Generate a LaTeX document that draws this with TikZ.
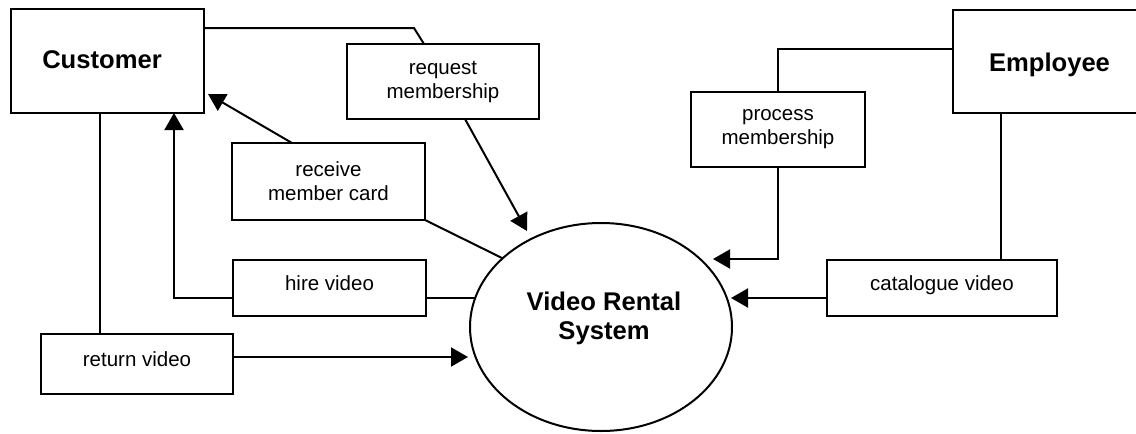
\documentclass[tikz,border=0pt]{standalone}
\usepackage{fontspec}
\setmainfont{Liberation Sans}
\usetikzlibrary{shapes.geometric,arrows.meta}
\begin{document}
\begin{tikzpicture}[x=1pt,y=-1pt,
  box/.style={draw,line width=2pt,rectangle,inner sep=0pt,outer sep=0pt,
    font=\fontsize{20.5}{24}\selectfont,align=center},
  onebox/.style={box,text height=15pt,text depth=11pt},
  ent/.style={draw,line width=2pt,rectangle,inner sep=0pt,outer sep=0pt,
    font=\bfseries\fontsize{25.6}{29}\selectfont},
  conn/.style={line width=2pt},
  arr/.style={line width=2pt,-{Triangle[length=17pt,width=19pt]}}]
\useasboundingbox (0,0) rectangle (1136,434);
\clip (0,0) rectangle (1136,434);

% entities
\node[ent,minimum width=193pt,minimum height=104pt,text height=18.7pt,text depth=4.7pt] (cust) at (107.5,61) {Customer\hspace*{11pt}};
\node[ent,minimum width=193pt,minimum height=103pt,text height=19pt,text depth=0pt] (emp) at (1049.5,61.5) {Employee};

% flows
\node[box,minimum width=192pt,minimum height=75pt] (req) at (443,81.5) {request\\membership};
\node[box,minimum width=193pt,minimum height=77pt] (rec) at (328.5,181.5) {receive\\member card};
\node[onebox,minimum width=193pt,minimum height=56pt] (hire) at (329.5,288) {hire video};
\node[onebox,minimum width=192pt,minimum height=60pt] (ret) at (137,364) {return video};
\node[box,minimum width=174pt,minimum height=75pt] (proc) at (778,129.5) {process\\membership};
\node[onebox,minimum width=230pt,minimum height=56pt] (cat) at (942,288) {catalogue video};

% system
\node[draw,ellipse,line width=2pt,inner sep=0pt,minimum width=262pt,minimum height=208pt] (sys) at (601,327) {};
\node[font=\bfseries\fontsize{25.6}{29}\selectfont,align=center,inner sep=0pt] (systxt) at (604,318) {Video Rental\\System};

% arrow tip points on / near the system
\coordinate (tReq) at (527,231);
\coordinate (tRec) at (502,258);
\coordinate (tHire) at (475,298);
\coordinate (tRet) at (468,357);
\coordinate (tProc) at (713,259);
\coordinate (tCat) at (731,298);
\coordinate (bend1) at (414,28);

% connectors
\draw[conn] ([yshift=33pt]cust.east) -- (bend1) -- ([xshift=77pt]req.north west);
\draw[arr] ([xshift=22pt]req.south) -- (tReq);
\draw[arr] ([xshift=60pt]rec.north west) -- ([shift={(4pt,19pt)}]cust.south east);
\draw[conn] (rec.south east) -- (tRec);
\draw[arr] ([yshift=-10pt]hire.west) -| ([xshift=66.5pt]cust.south);
\draw[conn] ([yshift=-10pt]hire.east) -- (tHire);
\draw[conn] ([xshift=-7.5pt]cust.south) coordinate (c1) -- (c1 |- ret.north);
\draw[arr] ([yshift=7pt]ret.east) -- (tRet);
\draw[conn] ([yshift=12.5pt]emp.west) -| (proc.north);
\draw[arr] (proc.south) |- (tProc);
\draw[conn] ([xshift=-48.5pt]emp.south) coordinate (e1) -- (e1 |- cat.north);
\draw[arr] ([yshift=-10pt]cat.west) -- (tCat);
\end{tikzpicture}
\end{document}
